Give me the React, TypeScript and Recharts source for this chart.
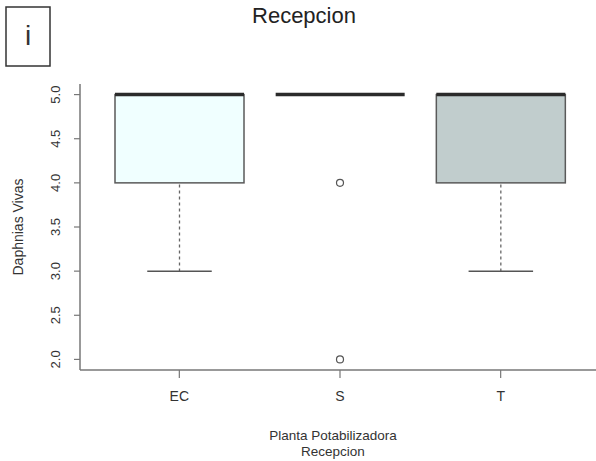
import { ComposedChart, Bar, Scatter, XAxis, YAxis } from "recharts";

// boxplot stats per plant
const categories = ["EC", "S", "T"];
const lowerWhisker = [3, 5, 3];
const q1 = [4, 5, 4];
const medians = [5, 5, 5];
const q3 = [5, 5, 5];
const upperWhisker = [5, 5, 5];
const boxFills = ["#f0ffff", "#ffffff", "#c1cdcd"];

// points outside the whiskers
const outlierGroups = ["S", "S"];
const outlierValues = [4, 2];

const yTicks = [2, 2.5, 3, 3.5, 4, 4.5, 5];

const rows = categories.map((name, i) => ({
  name,
  whisker: [lowerWhisker[i], upperWhisker[i]],
  box: [q1[i], q3[i]],
  lowCap: [lowerWhisker[i], lowerWhisker[i]],
  highCap: [upperWhisker[i], upperWhisker[i]],
  median: [medians[i], medians[i]],
  fill: boxFills[i],
}));

const outliers = outlierGroups.map((name, i) => ({ name, value: outlierValues[i] }));

const BOX_W = 129;
const FONT = "'Liberation Sans', Arial, sans-serif";

const span = (y: number, h: number) => ({ top: Math.min(y, y + h), h: Math.abs(h) });

const WhiskerShape = (p: any) => {
  const { top, h } = span(p.y, p.height);
  if (!(h > 0)) return <g />;
  const cx = p.x + p.width / 2;
  return <line x1={cx} x2={cx} y1={top} y2={top + h} stroke="#666" strokeWidth={1.3} strokeDasharray="3 3" />;
};

const BoxShape = (p: any) => {
  const { top, h } = span(p.y, p.height);
  if (!(h > 0)) return <g />;
  return (
    <rect x={p.x} y={top} width={p.width} height={h} fill={p.payload.fill} stroke="#5a5a5a" strokeWidth={1.5} />
  );
};

const CapShape = (p: any) => (
  <line x1={p.x + p.width / 4} x2={p.x + (3 * p.width) / 4} y1={p.y} y2={p.y} stroke="#555" strokeWidth={1.5} />
);

const MedianShape = (p: any) => (
  <line x1={p.x} x2={p.x + p.width} y1={p.y} y2={p.y} stroke="#2b2b2b" strokeWidth={3.5} />
);

const OutlierShape = (p: any) => (
  <circle cx={p.cx} cy={p.cy} r={3.5} fill="none" stroke="#555" strokeWidth={1.2} />
);

const YTick = (p: any) => {
  const bx = p.x - 12;
  return (
    <text x={bx} y={p.y} transform={`rotate(-90, ${bx}, ${p.y})`} textAnchor="middle" fontSize={13} fill="#333">
      {Number(p.payload.value).toFixed(1)}
    </text>
  );
};

export default function App() {
  return (
    <div
      style={{
        position: "absolute",
        left: 0,
        top: 0,
        width: 596,
        height: 461,
        overflow: "hidden",
        background: "#fff",
        fontFamily: FONT,
      }}
    >
      <ComposedChart
        width={600}
        height={461}
        data={rows}
        barGap={-BOX_W}
        margin={{ top: 84, right: 0, bottom: 51, left: 0 }}
      >
        <XAxis
          dataKey="name"
          type="category"
          allowDuplicatedCategory={false}
          padding={{ left: 19, right: 19 }}
          height={40}
          tickSize={8}
          tickMargin={13}
          tick={{ fill: "#333", fontSize: 14 }}
          axisLine={{ stroke: "#777", strokeWidth: 1.5 }}
          tickLine={{ stroke: "#777", strokeWidth: 1.2 }}
        />
        <YAxis
          type="number"
          domain={[1.88, 5.12]}
          allowDataOverflow
          ticks={yTicks}
          width={80}
          tickSize={6}
          tick={<YTick />}
          axisLine={{ stroke: "#777", strokeWidth: 1.5 }}
          tickLine={{ stroke: "#777", strokeWidth: 1.2 }}
          label={{
            value: "Daphnias Vivas",
            angle: -90,
            position: "insideLeft",
            offset: 18,
            style: { textAnchor: "middle", fontSize: 14, fill: "#333" },
          }}
        />
        <Bar dataKey="whisker" barSize={BOX_W} shape={<WhiskerShape />} isAnimationActive={false} />
        <Bar dataKey="box" barSize={BOX_W} shape={<BoxShape />} isAnimationActive={false} />
        <Bar dataKey="lowCap" barSize={BOX_W} shape={<CapShape />} isAnimationActive={false} />
        <Bar dataKey="highCap" barSize={BOX_W} shape={<CapShape />} isAnimationActive={false} />
        <Bar dataKey="median" barSize={BOX_W} shape={<MedianShape />} isAnimationActive={false} />
        <Scatter data={outliers} dataKey="value" shape={<OutlierShape />} isAnimationActive={false} />
      </ComposedChart>

      <svg
        width={596}
        height={461}
        style={{ position: "absolute", left: 0, top: 0, pointerEvents: "none" }}
      >
        <rect x={6} y={7} width={44} height={59} fill="none" stroke="#333" strokeWidth={1.5} />
        <text x={28} y={45} textAnchor="middle" fontSize={28} fill="#333">
          i
        </text>
        <text x={304} y={23} textAnchor="middle" fontSize={22} fill="#222">
          Recepcion
        </text>
        <text x={333} y={440} textAnchor="middle" fontSize={13.5} fill="#333">
          Planta Potabilizadora
        </text>
        <text x={333} y={456} textAnchor="middle" fontSize={13.5} fill="#333">
          Recepcion
        </text>
      </svg>
    </div>
  );
}
